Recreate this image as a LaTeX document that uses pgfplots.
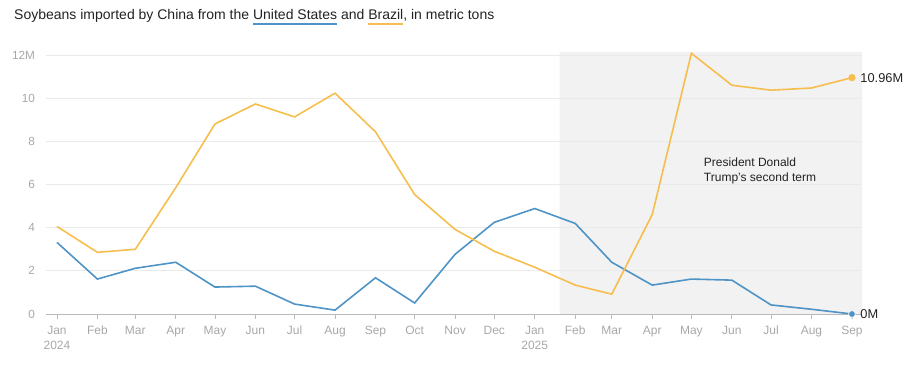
\documentclass[border=0pt]{standalone}
\usepackage{pgfplots}
\pgfplotsset{compat=1.18}
\usepackage{fontspec}
\setmainfont{Liberation Sans}
\definecolor{usblue}{RGB}{78,148,198}
\definecolor{brgold}{RGB}{246,190,76}
\definecolor{shade}{RGB}{242,242,242}
\definecolor{gridc}{RGB}{234,234,234}
\definecolor{tickc}{RGB}{168,168,168}
\definecolor{axc}{RGB}{185,185,185}
\definecolor{txt}{RGB}{34,34,34}
\newcommand\cul[2]{\setbox0\hbox{#2}\rlap{\color{#1}\rule[-4.8bp]{\wd0}{1.6bp}}\box0{}}
\begin{document}
\begin{tikzpicture}
\node[anchor=base west, inner sep=0, text=txt, font=\fontsize{14bp}{17bp}\selectfont] at (14bp,346bp)
  {Soybeans imported by China from the \cul{usblue}{United States} and \cul{brgold}{Brazil}, in metric tons};
\begin{axis}[
  set layers,
  at={(46bp,52bp)}, anchor=south west,
  scale only axis, width=816bp, height=262bp,
  xmin=-8.4, xmax=616.7, ymin=0, ymax=12.15,
  clip=false,
  axis x line*=bottom, axis y line*=left,
  x axis line style={-, draw=axc, line width=0.9bp},
  y axis line style={draw=none},
  ytick={0,2,4,6,8,10,12},
  yticklabels={0,2,4,6,8,10,12M},
  ytick style={draw=none},
  ymajorgrids, grid style={gridc, line width=0.8bp},
  xtick={0,31,60,91,121,152,182,213,244,274,305,335,366,397,425,456,486,517,547,578,609},
  xticklabels={Jan\\2024,Feb,Mar,Apr,May,Jun,Jul,Aug,Sep,Oct,Nov,Dec,Jan\\2025,Feb,Mar,Apr,May,Jun,Jul,Aug,Sep},
  xtick style={draw=axc, line width=0.8bp},
  tick align=outside, major tick length=5bp,
  /pgf/number format/assume math mode=true,
  xticklabel style={align=center, text=tickc, font=\fontsize{12bp}{15bp}\selectfont, yshift=-3.5bp},
  yticklabel style={text=tickc, font=\fontsize{11.8bp}{13bp}\selectfont, anchor=east, xshift=-2.5bp},
]
\addplot[fill=shade, draw=none, on layer=axis background] coordinates {(385,0) (616.7,0) (616.7,12.15) (385,12.15)} \closedcycle;
\addplot[usblue, line width=1.6bp] coordinates {
(0,3.32) (31,1.62) (60,2.12) (91,2.40) (121,1.25) (152,1.29) (182,0.46) (213,0.18) (244,1.68) (274,0.51) (305,2.77) (335,4.25)
(366,4.89) (397,4.20) (425,2.40) (456,1.34) (486,1.62) (517,1.57) (547,0.42) (578,0.22) (609,0.0)};
\addplot[brgold, line width=1.6bp] coordinates {
(0,4.06) (31,2.86) (60,3.00) (91,5.86) (121,8.81) (152,9.74) (182,9.14) (213,10.24) (244,8.45) (274,5.54) (305,3.92) (335,2.91)
(366,2.17) (397,1.34) (425,0.92) (456,4.61) (486,12.09) (517,10.61) (547,10.38) (578,10.48) (609,10.96)};
\addplot[only marks, mark=*, mark size=3.4bp, mark options={fill=brgold, draw=brgold}] coordinates {(609,10.96)}
  node[anchor=west, xshift=5bp, text=txt, font=\fontsize{12.8bp}{15bp}\selectfont] {10.96M};
\addplot[only marks, mark=*, mark size=3.4bp, mark options={fill=usblue, draw=white, line width=0.6bp}] coordinates {(609,0)}
  node[anchor=west, xshift=5bp, text=txt, font=\fontsize{12.8bp}{15bp}\selectfont] {0M};
\node[anchor=west, align=left, text=txt, font=\fontsize{12bp}{15bp}\selectfont, inner sep=0] at (axis cs:495.5,6.62)
  {President Donald\\Trump's second term};
\end{axis}
\pgfresetboundingbox
\path[use as bounding box] (0,0) rectangle (913bp,366bp);
\end{tikzpicture}
\end{document}
